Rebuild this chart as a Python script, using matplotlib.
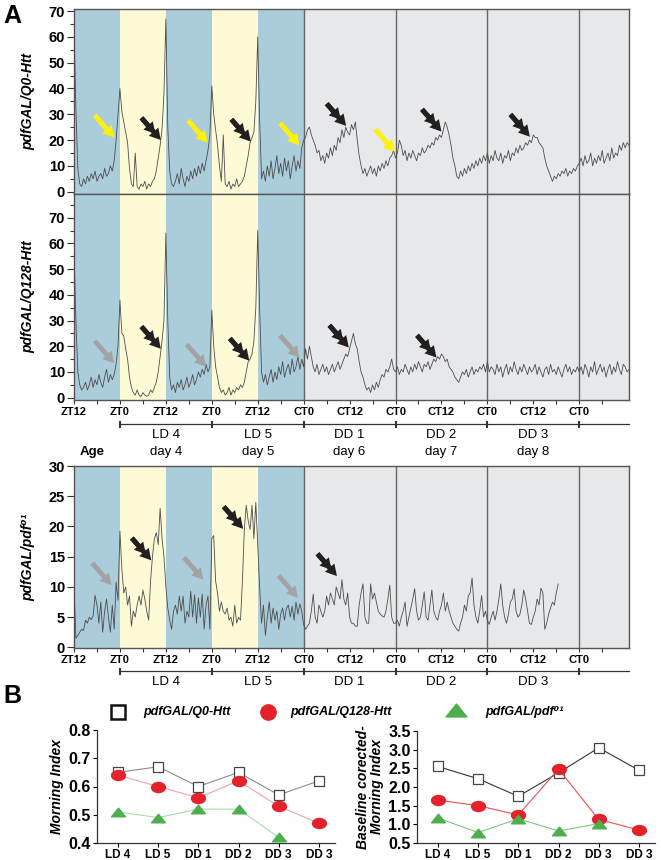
import numpy as np
import matplotlib
matplotlib.use('Agg')
import matplotlib.pyplot as plt
from matplotlib.transforms import blended_transform_factory
from matplotlib.path import Path
from matplotlib.ticker import MultipleLocator, FixedLocator, FormatStrFormatter

plt.rcParams['font.family'] = ['Liberation Sans', 'DejaVu Sans']

# ---------------- data: activity traces (30-min bins, starting at ZT12) ----------------
BIN_H = 0.5
q0_trace = [
    64, 32, 9, 3, 2, 5, 3, 6, 4, 7, 5, 8, 4, 6, 7, 5, 9, 6, 7, 10, 8, 12, 20, 30,
    40, 31, 27, 23, 19, 9, 3, 2, 15, 2, 1, 3, 2, 4, 1, 3, 2, 4, 5, 8, 13, 18, 24, 38,
    67, 25, 8, 3, 2, 4, 7, 3, 9, 5, 2, 6, 4, 8, 5, 9, 6, 10, 7, 11, 8, 12, 16, 22,
    41, 30, 24, 18, 10, 4, 22, 3, 2, 4, 1, 3, 2, 5, 2, 3, 4, 6, 10, 14, 19, 21, 23, 35,
    60, 28, 5, 8, 4, 10, 6, 12, 5, 9, 14, 7, 11, 6, 13, 8, 12, 5, 10, 14, 8, 12, 9, 17,
    20, 21, 24, 25, 22, 20, 18, 15, 16, 12, 14, 11, 15, 13, 17, 14, 18, 16, 21, 19, 24, 21, 25, 23,
    22, 26, 24, 27, 20, 14, 10, 7, 9, 6, 8, 10, 7, 9, 6, 10, 8, 11, 9, 12, 10, 13, 14, 16,
    13, 15, 20, 18, 14, 16, 12, 15, 13, 16, 14, 12, 15, 14, 17, 15, 16, 18, 17, 19, 18, 21, 20, 22,
    21, 24, 27, 25, 22, 18, 13, 10, 6, 5, 8, 6, 9, 7, 10, 8, 11, 9, 12, 10, 13, 11, 14, 12,
    15, 11, 14, 12, 16, 13, 12, 15, 11, 14, 13, 16, 12, 15, 14, 17, 15, 18, 16, 17, 19, 18, 20, 19,
    22, 21, 21, 19, 18, 17, 13, 10, 8, 6, 4, 6, 5, 7, 6, 8, 7, 9, 6, 8, 7, 9, 8, 10,
    11, 13, 10, 14, 11, 12, 15, 10, 13, 11, 14, 12, 16, 11, 13, 15, 12, 17, 13, 15, 14, 18, 16, 19, 17, 19, 18,
]
q128_trace = [
    57, 30, 10, 5, 3, 4, 6, 3, 5, 8, 4, 7, 5, 9, 6, 4, 8, 11, 6, 9, 7, 9, 13, 20,
    38, 25, 24, 19, 15, 8, 4, 2, 1, 3, 1, 0.5, 2, 1, 0.5, 1, 3, 2, 4, 6, 10, 16, 22, 30,
    64, 30, 8, 3, 5, 2, 6, 4, 7, 3, 5, 8, 4, 6, 9, 5, 7, 10, 8, 11, 9, 13, 10, 12,
    34, 20, 12, 8, 4, 2, 3, 1, 2, 4, 1, 3, 2, 4, 3, 5, 4, 6, 10, 14, 15, 17, 22, 35,
    65, 35, 10, 6, 9, 5, 8, 11, 6, 10, 7, 12, 9, 14, 8, 11, 13, 9, 15, 10, 12, 16, 11, 15,
    12, 19, 15, 20, 16, 12, 10, 13, 9, 11, 13, 10, 12, 9, 11, 13, 10, 12, 14, 11, 13, 15, 17, 16,
    19, 22, 25, 21, 19, 14, 10, 8, 5, 3, 4, 2, 5, 3, 6, 4, 7, 9, 8, 11, 10, 12, 15, 11,
    10, 12, 9, 11, 10, 13, 11, 9, 12, 10, 13, 11, 14, 12, 10, 13, 12, 14, 11, 13, 15, 14, 16, 15,
    17, 16, 14, 15, 12, 11, 10, 8, 7, 6, 8, 10, 9, 11, 8, 10, 12, 9, 11, 10, 12, 11, 13, 10,
    14, 10, 12, 11, 9, 13, 10, 12, 8, 11, 13, 9, 12, 10, 14, 11, 9, 12, 10, 13, 11, 9, 12, 10,
    11, 13, 9, 12, 10, 8, 11, 12, 9, 13, 10, 11, 9, 12, 10, 8, 11, 13, 10, 12, 9, 11, 10, 12,
    10, 12, 9, 13, 11, 8, 12, 10, 14, 9, 11, 13, 10, 12, 8, 11, 13, 9, 12, 10, 14, 11, 9, 13, 12, 10, 11,
]
pdf_trace = [
    10, 1.5, 2, 2.5, 3, 2.8, 4.5, 4, 5, 4.6, 5.2, 8.6, 7, 4, 7.5, 2.5, 6, 8, 5, 2.5, 7, 3, 10.8, 7.8,
    19.2, 13, 9, 10, 7, 8.5, 3.5, 6, 5, 7, 8.5, 7, 9.5, 8, 6, 4.5, 11, 15, 18, 19, 17, 23, 18, 15,
    10, 6.5, 4.5, 3, 6, 7, 5.5, 8.5, 6, 8.5, 4, 6, 5, 9.3, 5, 8.7, 4, 8.2, 5, 8.8, 3, 7, 8.5, 3,
    18, 18.5, 11, 9, 6, 7.5, 6, 5.5, 6.5, 4.5, 5, 3.5, 7, 4, 5, 4.5, 11, 19.5, 23.5, 21, 19.5, 23.5, 18, 24,
    17, 10, 4, 7, 2, 5, 7.5, 4, 6.5, 4.5, 6, 3, 5.5, 6.5, 4.5, 6.5, 7, 5, 6.8, 4.5, 7.5, 5.5, 7.2, 6,
    3.7, 3, 3.5, 4, 6, 8.8, 5, 4, 7, 6, 5, 6, 8.5, 7, 9, 8, 7, 10, 9, 8, 11.2, 8, 7, 9,
    5, 4, 4, 3.5, 3.5, 7, 9, 10.5, 5, 4, 4, 10.5, 8, 9, 7.5, 6, 5.5, 5.2, 5, 6, 8, 10.3, 5, 4,
    4, 4.5, 3.5, 5, 6, 7.5, 3.5, 5, 6.5, 8, 9.7, 6, 4.5, 5, 7, 9.2, 5, 4.5, 7, 9.5, 6, 5, 4.5, 6,
    7, 9, 6, 7.5, 6, 5, 4, 3.5, 3, 2.7, 4, 5, 7, 6, 8.5, 9, 11.5, 7, 5, 4, 6, 8.6, 5, 6,
    4.5, 3.8, 5, 6, 4.5, 6, 8, 10.5, 7, 5, 4, 5.5, 7.5, 8, 9.7, 6, 5, 5.5, 7, 9.5, 8, 6, 4, 3.8,
    5, 6, 8, 7, 9.8, 9, 3, 4, 5.5, 6.5, 7.5, 7, 9, 10.5,
]

# time axis labels
phase_ticks = [0, 12, 24, 36, 48, 60, 72, 84, 96, 108, 120, 132]
phase_labels = ['ZT12', 'ZT0', 'ZT12', 'ZT0', 'ZT12', 'CT0', 'CT12', 'CT0', 'CT12', 'CT0', 'CT12', 'CT0']
day_bounds = [12, 36, 60, 84, 108, 132]
day_names = ['LD 4', 'LD 5', 'DD 1', 'DD 2', 'DD 3']
age_names = ['day 4', 'day 5', 'day 6', 'day 7', 'day 8']
x_end = 145

# light regime segments (start, end, kind)
segments = [(0, 12, 'dark'), (12, 24, 'light'), (24, 36, 'dark'), (36, 48, 'light'),
            (48, 60, 'dark'), (60, 145, 'dd')]
dd_lines = [60, 84, 108, 132]

# arrows (hour, value, kind)
arrows_q0 = [(10.5, 21, 'yellow'), (22.7, 20, 'black'), (34.9, 19, 'yellow'), (46.2, 19.4, 'black'),
             (58.9, 18, 'yellow'), (71.1, 25.5, 'black'), (83.8, 15.5, 'yellow'), (96.0, 23.3, 'black'),
             (119.1, 21.3, 'black')]
arrows_q128 = [(10.5, 13.4, 'gray'), (22.7, 19.0, 'black'), (34.5, 12.1, 'gray'), (45.8, 14.4, 'black'),
               (58.9, 15.6, 'gray'), (71.8, 19.5, 'black'), (94.7, 15.6, 'black')]
arrows_pdf = [(9.8, 10.3, 'gray'), (20.2, 14.4, 'black'), (33.8, 11.2, 'gray'), (44.2, 19.6, 'black'),
              (58.5, 8.2, 'gray'), (68.7, 11.8, 'black')]

# panel B
b_cats = ['LD 4', 'LD 5', 'DD 1', 'DD 2', 'DD 3', 'DD 3']
mi_q0 = [0.65, 0.67, 0.60, 0.65, 0.57, 0.62]
mi_q128 = [0.64, 0.60, 0.56, 0.62, 0.53, 0.47]
mi_pdf = [0.51, 0.49, 0.52, 0.52, 0.42]
bc_q0 = [2.55, 2.22, 1.75, 2.38, 3.05, 2.45]
bc_q128 = [1.65, 1.50, 1.25, 2.48, 1.13, 0.85]
bc_pdf = [1.17, 0.78, 1.15, 0.82, 1.02]
legend_names = ['pdfGAL/Q0-Htt', 'pdfGAL/Q128-Htt', 'pdfGAL/pdf\u2070\u00b9']

# ---------------- styling ----------------
W, H = 661, 860
bg = {'dark': '#abcddb', 'light': '#fefad6', 'dd': '#e7e8ea'}
arrow_col = {'yellow': '#fff200', 'black': '#231f20', 'gray': '#a3a3a3'}
trace_col = '#4d4d4d'

fig = plt.figure(figsize=(W / 100, H / 100), dpi=100)


def fx(px):
    return px / W


def fy(py):
    return 1 - py / H


def pos(l, t, r, b):
    return [fx(l), fy(b), fx(r) - fx(l), fy(t) - fy(b)]


ov = fig.add_axes([0, 0, 1, 1])
ov.set_xlim(0, W)
ov.set_ylim(H, 0)
ov.axis('off')


def draw_arrow(ax, x, y, kind):
    c = arrow_col[kind]
    style = 'simple,head_length=0.8,head_width=0.9,tail_width=0.35'
    ax.annotate('', xy=(x, y), xycoords='data', xytext=(-14, 16), textcoords='offset points',
                arrowprops=dict(arrowstyle=style, color=c, shrinkA=0, shrinkB=0,
                                mutation_scale=10, lw=0), zorder=6, annotation_clip=False)
    if kind == 'black':
        ax.annotate('', xy=(x, y), xycoords='data', xytext=(-14, 16), textcoords='offset points',
                    arrowprops=dict(arrowstyle=style, color=c, shrinkA=0, shrinkB=6,
                                    mutation_scale=10, lw=0), zorder=6, annotation_clip=False)


def activity_panel(ax, trace, ylim, yticks, arrows, ylabel, show_xlabels, minor_y=None):
    for s, e, k in segments:
        ax.axvspan(s, e, color=bg[k], lw=0, zorder=0)
    for d in dd_lines:
        ax.axvline(d, color='#666666', lw=1.0, zorder=1)
    hours = np.arange(len(trace)) * BIN_H
    ax.plot(hours, trace, color=trace_col, lw=0.6, zorder=3)
    for x, y, k in arrows:
        draw_arrow(ax, x, y, k)
    ax.set_xlim(0, x_end)
    ax.set_ylim(*ylim)
    ax.set_yticks(yticks)
    if minor_y:
        ax.yaxis.set_minor_locator(MultipleLocator(minor_y))
    ax.set_xticks(phase_ticks)
    ax.xaxis.set_minor_locator(FixedLocator([h for h in range(6, x_end, 12)]))
    if show_xlabels:
        ax.set_xticklabels(phase_labels, fontsize=8, fontweight='bold')
    else:
        ax.set_xticklabels([])
    ax.tick_params(axis='x', which='both', direction='out', length=3, width=0.8, pad=2, color='#333')
    ax.tick_params(axis='y', which='major', direction='out', length=5, width=0.8, pad=1.5,
                   labelsize=10.5, color='#333')
    ax.tick_params(axis='y', which='minor', direction='out', length=3, width=0.8, color='#333')
    for lab in ax.get_yticklabels():
        lab.set_fontweight('bold')
    for sp in ax.spines.values():
        sp.set_color('#555555')
        sp.set_linewidth(1.0)
    ax.set_ylabel(ylabel, fontsize=10, fontweight='bold', style='italic', labelpad=4)


ax1 = fig.add_axes(pos(74, 8.5, 629, 194))
activity_panel(ax1, q0_trace, (-0.9, 71.0), range(0, 71, 10), arrows_q0, 'pdfGAL/Q0-Htt', False, 5)
ax2 = fig.add_axes(pos(74, 194, 629, 400))
activity_panel(ax2, q128_trace, (-0.9, 79.2), range(0, 71, 10), arrows_q128, 'pdfGAL/Q128-Htt', True, 5)
ax3 = fig.add_axes(pos(74, 466, 629, 648))
activity_panel(ax3, pdf_trace, (-0.1, 30.0), range(0, 31, 5), arrows_pdf, 'pdfGAL/pdf\u2070\u00b9', True)
for a in (ax1, ax2, ax3):
    a.yaxis.set_label_coords(-0.07, 0.5)


def day_bracket(ax, y_line, y_txt1, y_txt2=None):
    tr = blended_transform_factory(ax.transData, fig.transFigure)
    ax.plot([day_bounds[0], x_end], [fy(y_line)] * 2, transform=tr, clip_on=False, color='#333', lw=0.9)
    for b in day_bounds:
        ax.plot([b, b], [fy(y_line - 2.5), fy(y_line + 2.5)], transform=tr, clip_on=False,
                color='#333', lw=1.5)
    for i, name in enumerate(day_names):
        xm = (day_bounds[i] + day_bounds[i + 1]) / 2
        ax.text(xm, fy(y_txt1), name, transform=tr, ha='center', va='center', fontsize=9.5)
        if y_txt2 is not None:
            ax.text(xm, fy(y_txt2), age_names[i], transform=tr, ha='center', va='center', fontsize=9.5)


day_bracket(ax2, 424, 435, 452)
day_bracket(ax3, 671, 682)
ov.text(92, 452, 'Age', ha='center', va='center', fontsize=9.5, fontweight='bold')

# panel letters
ov.text(3, 16, 'A', ha='left', va='center', fontsize=18, fontweight='bold')
ov.text(3, 696, 'B', ha='left', va='center', fontsize=18, fontweight='bold')

# ---------------- panel B ----------------
circ = Path.unit_circle()
ellipse = Path(circ.vertices * np.array([1.0, 0.72]), circ.codes)
tri = Path(np.array([(0, 1), (-1, -1), (1, -1), (0, 1)]) * np.array([1.0, 0.62]),
           [Path.MOVETO, Path.LINETO, Path.LINETO, Path.CLOSEPOLY])


def morning_panel(ax, q0, q128, pdf, ylim, yticks, ylabel, cols):
    xs = np.arange(len(b_cats))
    ax.plot(xs[:len(q0)], q0, color=cols[0], lw=0.8, marker='s', ms=7, mfc='white', mec='#444444',
            mew=0.9, zorder=3)
    ax.plot(xs[:len(q128)], q128, color=cols[1], lw=0.8, marker=ellipse, ms=10, mfc='#e3222b',
            mec='#e3222b', zorder=4)
    ax.plot(xs[:len(pdf)], pdf, color=cols[2], lw=0.8, marker=tri, ms=10, mfc='#4cae4c',
            mec='#4cae4c', zorder=4)
    ax.set_xlim(-0.52, 5.4)
    ax.set_ylim(*ylim)
    ax.set_yticks(yticks)
    ax.yaxis.set_major_formatter(FormatStrFormatter('%.1f'))
    ax.set_xticks(xs)
    ax.set_xticklabels(b_cats, fontsize=8.5, fontweight='bold')
    ax.tick_params(axis='y', labelsize=11.5, length=3, width=0.8, pad=1.5)
    ax.tick_params(axis='x', length=3, width=0.8, pad=1.5)
    for lab in ax.get_yticklabels():
        lab.set_fontweight('bold')
    for s in ('top', 'right'):
        ax.spines[s].set_visible(False)
    for s in ('left', 'bottom'):
        ax.spines[s].set_linewidth(0.9)
        ax.spines[s].set_color('#333')
    ax.set_ylabel(ylabel, fontsize=10, fontweight='bold', style='italic', labelpad=3,
                  linespacing=1.0)


bl = fig.add_axes(pos(97, 730, 335, 843))
morning_panel(bl, mi_q0, mi_q128, mi_pdf, (0.4, 0.8), [0.4, 0.5, 0.6, 0.7, 0.8], 'Morning Index',
              ('#8a8a8a', '#f3a3a3', '#a8daa8'))
br = fig.add_axes(pos(417, 731, 655, 843))
morning_panel(br, bc_q0, bc_q128, bc_pdf, (0.5, 3.5), [0.5, 1.0, 1.5, 2.0, 2.5, 3.0, 3.5],
              'Baseline corected-\nMorning Index', ('#333333', '#e8504c', '#7cc77c'))

# legend row
ov.plot([118], [712], marker='s', ms=10.5, mfc='white', mec='#111111', mew=1.8, ls='none')
ov.plot([268], [712], marker='o', ms=11, mfc='#e3222b', mec='#e3222b', ls='none')
ov.plot([456], [710], marker=tri, ms=15, mfc='#4cae4c', mec='#4cae4c', ls='none')
for xpos, name in zip([143, 290, 485], legend_names):
    ov.text(xpos, 712, name, ha='left', va='center', fontsize=9, fontweight='bold', style='italic')

fig.savefig('out.png', dpi=100)
